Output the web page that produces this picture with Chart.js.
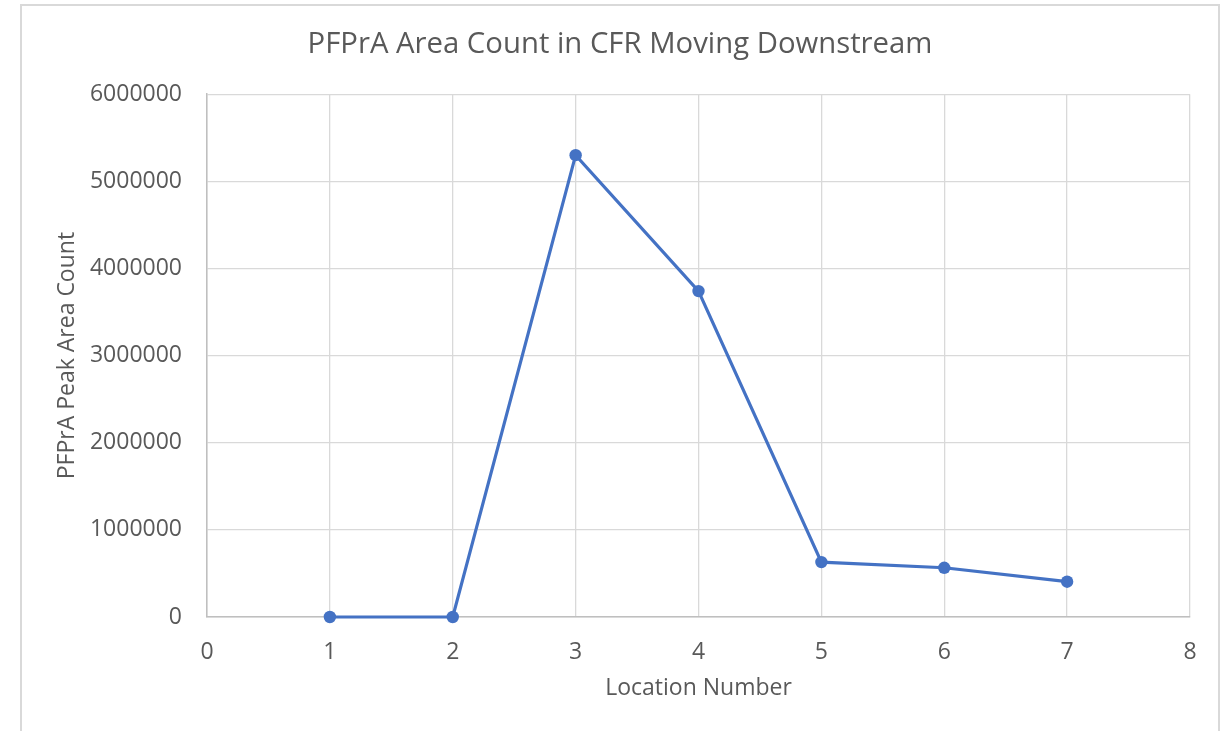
<!DOCTYPE html>
<html>
<head>
<meta charset="utf-8">
<script src="https://cdn.jsdelivr.net/npm/chart.js@4/dist/chart.umd.min.js"></script>
<style>
  html, body { margin: 0; padding: 0; background: #fff; }
  #wrap { position: relative; width: 1230px; height: 731px; overflow: hidden; }
  #frame { position: absolute; left: 20px; top: 4px; width: 1200px; height: 760px; border: 2px solid #d9d9d9; box-sizing: border-box; }
  #c { position: absolute; left: 0; top: 0; }
</style>
</head>
<body>
<div id="wrap">
  <div id="frame"></div>
  <canvas id="c" width="1230" height="731"></canvas>
</div>
<script>
  // Location number vs PFPrA peak area count
  const locations = [1, 2, 3, 4, 5, 6, 7];
  const peakAreaCount = [0, 0, 5300000, 3740000, 630000, 565000, 405000];

  const xTicks = [0, 1, 2, 3, 4, 5, 6, 7, 8];
  const yTicks = [0, 1000000, 2000000, 3000000, 4000000, 5000000, 6000000];

  const textColor = '#595959';
  const gridColor = '#d9d9d9';
  const fontFamily = '"Open Sans", "Noto Sans", sans-serif';

  const points = locations.map((x, i) => ({ x, y: peakAreaCount[i] }));

  new Chart(document.getElementById('c').getContext('2d'), {
    type: 'line',
    data: {
      datasets: [
        {
          label: 'PFPrA',
          data: points,
          borderColor: '#4472c4',
          backgroundColor: '#4472c4',
          borderWidth: 3.2,
          pointRadius: 6.2,
          pointBorderWidth: 0,
          pointBackgroundColor: '#4472c4',
          tension: 0,
          clip: false
        }
      ]
    },
    options: {
      responsive: false,
      animation: false,
      layout: { padding: { left: 50, right: 40, top: 0, bottom: 25 } },
      plugins: {
        legend: { display: false },
        tooltip: { enabled: false },
        title: {
          display: true,
          text: 'PFPrA Area Count in CFR Moving Downstream',
          color: textColor,
          font: { family: fontFamily, size: 29.3, weight: 'normal' },
          padding: { top: 27, bottom: 32 }
        }
      },
      scales: {
        x: {
          type: 'linear',
          min: 0,
          max: 8,
          afterBuildTicks: (axis) => { axis.ticks = xTicks.map((v) => ({ value: v })); },
          afterFit: (axis) => { axis.height = 89; },
          ticks: {
            color: textColor,
            font: { family: fontFamily, size: 23 },
            padding: 22,
            maxRotation: 0
          },
          grid: { color: gridColor, lineWidth: 1.3, drawTicks: false },
          border: { color: '#bfbfbf', width: 1.5 },
          title: {
            display: true,
            text: 'Location Number',
            color: textColor,
            font: { family: fontFamily, size: 23 }
          }
        },
        y: {
          min: 0,
          max: 6000000,
          afterBuildTicks: (axis) => { axis.ticks = yTicks.map((v) => ({ value: v })); },
          afterFit: (axis) => { axis.width = 157; },
          ticks: {
            color: textColor,
            font: { family: fontFamily, size: 23 },
            padding: 25,
            callback: (v) => String(v)
          },
          grid: { color: gridColor, lineWidth: 1.3, drawTicks: false },
          border: { color: '#bfbfbf', width: 1.5 },
          title: {
            display: true,
            text: 'PFPrA Peak Area Count',
            color: textColor,
            font: { family: fontFamily, size: 23 }
          }
        }
      }
    }
  });
</script>
</body>
</html>
